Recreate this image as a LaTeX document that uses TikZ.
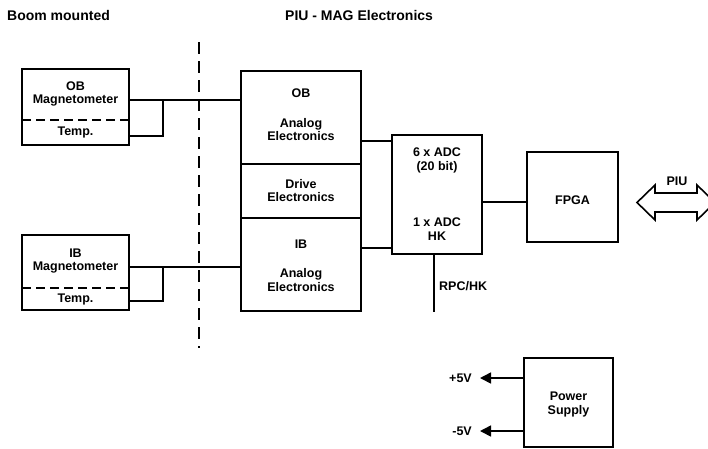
\documentclass[tikz,border=0pt]{standalone}
\usepackage{fontspec}
\setmainfont{Liberation Sans}
\usetikzlibrary{calc,arrows.meta}
\begin{document}
\begin{tikzpicture}[x=1pt,y=-1pt,
  box/.style={draw, line width=1.6pt, inner sep=0pt, outer sep=0pt},
  wire/.style={line width=1.6pt},
  lbl/.style={font=\fontsize{12.5}{13.5}\selectfont\bfseries, align=center, inner sep=0pt},
  ttl/.style={font=\fontsize{14}{15}\selectfont\bfseries, inner sep=0pt, anchor=west},
  sep/.style={line width=1.6pt, dash pattern=on 9pt off 5pt},
  boundary/.style={line width=1.8pt, dash pattern=on 12pt off 7pt},
  tip/.style={-{Triangle[length=11pt,width=11pt]}}]
\useasboundingbox (0,0) rectangle (708,448);
% titles
\node[ttl] (t1) at (7,15) {Boom mounted};
\node[ttl] (t2) at (285,15) {PIU - MAG Electronics};
% boundary
\coordinate (btop) at (199,42);
\coordinate (bbot) at (199,348);
\draw[boundary] (btop) -- (bbot);
% magnetometers
\node[box, minimum width=107pt, minimum height=76pt] (obm) at (75.5,107) {};
\draw[sep] (obm.west |- 0,120) -- (obm.east |- 0,120);
\node[lbl] (obmt) at (75.5,94) {OB\\Magnetometer};
\node[lbl] (obtt) at (75.5,132.5) {Temp.};
\node[box, minimum width=107pt, minimum height=75pt] (ibm) at (75.5,272.5) {};
\draw[sep] (ibm.west |- 0,288) -- (ibm.east |- 0,288);
\node[lbl] (ibmt) at (75.5,261) {IB\\Magnetometer};
\node[lbl] (ibtt) at (75.5,299.5) {Temp.};
% analog electronics column
\node[box, minimum width=120pt, minimum height=93pt] (obae) at (301,117.5) {};
\node[box, minimum width=120pt, minimum height=54pt] (drv) at (301,191) {};
\node[box, minimum width=120pt, minimum height=93pt] (ibae) at (301,264.5) {};
\node[lbl] (obael1) at (301,93) {OB};
\node[lbl] (obael2) at (301,129.5) {Analog\\Electronics};
\node[lbl] (drvl) at (301,190.5) {Drive\\Electronics};
\node[lbl] (ibael1) at (301,244) {IB};
\node[lbl] (ibael2) at (301,280) {Analog\\Electronics};
% ADC
\node[box, minimum width=90pt, minimum height=119pt] (adc) at (437,194.5) {};
\node[lbl] (adcl1) at (437,160.5) {6 x ADC\\(20 bit)};
\node[lbl] (adcl2) at (437,229) {1 x ADC\\HK};
% FPGA
\node[box, minimum width=91pt, minimum height=90pt] (fpga) at (572.5,197) {};
\node[lbl] (fpgal) at (572.5,200) {FPGA};
% power supply
\node[box, minimum width=89pt, minimum height=89pt] (ps) at (568.5,402.5) {};
\node[lbl] (psl) at (568.5,404.5) {Power\\Supply};
% connectors mag -> analog
\coordinate (obj) at (163,100);
\draw[wire] (obm.east |- obj) -- (obae.west |- obj);
\draw[wire] (obj) -- (163,136) -- (obm.east |- 0,136);
\coordinate (ibj) at (163,267);
\draw[wire] (ibm.east |- ibj) -- (ibae.west |- ibj);
\draw[wire] (ibj) -- (163,301) -- (ibm.east |- 0,301);
% analog -> adc
\draw[wire] (obae.east |- 0,141) -- (adc.west |- 0,141);
\draw[wire] (ibae.east |- 0,248) -- (adc.west |- 0,248);
% adc -> fpga
\draw[wire] (adc.east |- 0,202) -- (fpga.west |- 0,202);
% RPC/HK
\coordinate (rpcend) at (434,312);
\draw[wire] (adc.south -| rpcend) -- (rpcend);
\node[lbl, anchor=west] (rpcl) at (439,286) {RPC/HK};
% PIU double arrow
\draw[line width=1.6pt, line join=miter] (637,202.5) -- (655,185) -- (655,193) -- (697,193) -- (697,185)
  -- (715,202.5) -- (697,220) -- (697,212) -- (655,212) -- (655,220) -- cycle;
\node[lbl] (piul) at (677,181) {PIU};
% power arrows
\node[lbl, anchor=east] (p5) at (472,378) {+5V};
\node[lbl, anchor=east] (m5) at (472,431) {-5V};
\draw[wire, tip] (ps.west |- p5) -- ([xshift=8pt]p5.east);
\draw[wire, tip] (ps.west |- m5) -- ([xshift=8pt]m5.east);
\end{tikzpicture}
\end{document}
